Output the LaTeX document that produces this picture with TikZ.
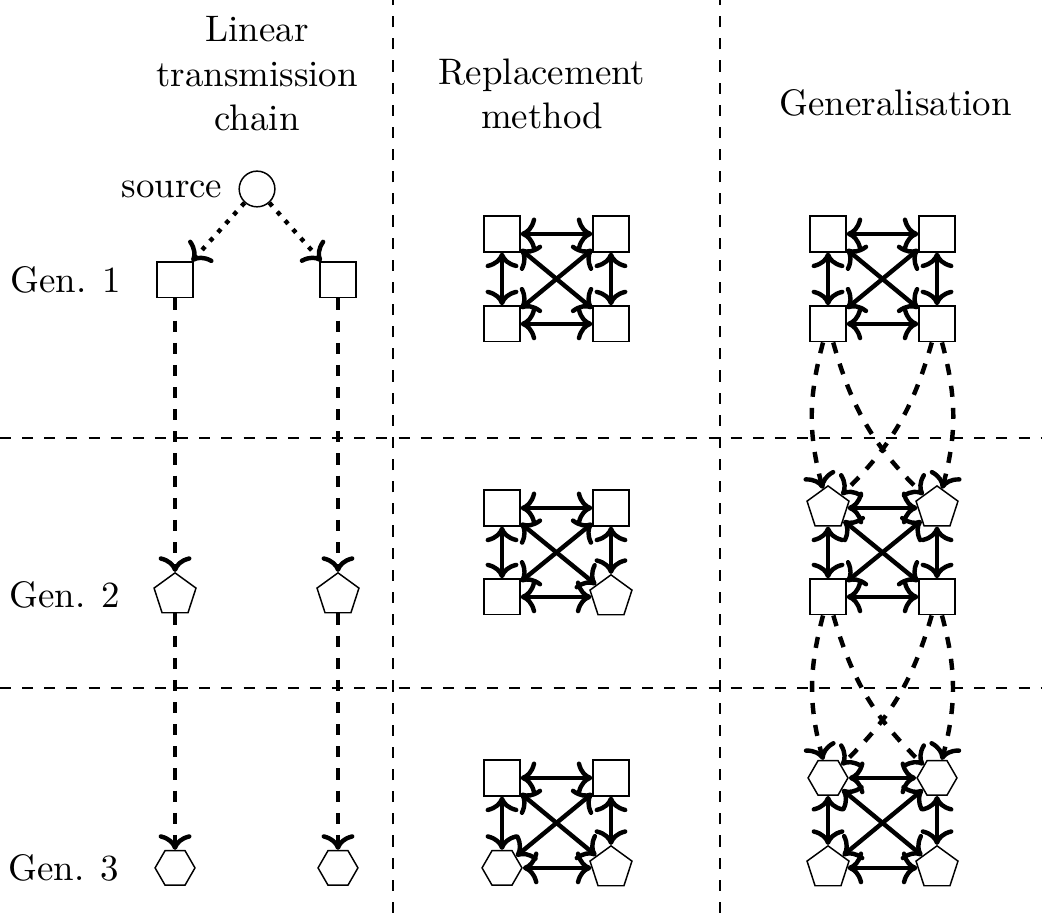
\documentclass[tikz,border=0pt]{standalone}
\usepackage{tikz}
\usetikzlibrary{shapes, arrows.meta, positioning}

\begin{document}
\begin{tikzpicture}[
  sq/.style={draw, rectangle, minimum size=0.34cm, inner sep=0pt},
  pent/.style={draw, regular polygon, regular polygon sides=5, minimum size=0.42cm, inner sep=0pt},
  hexa/.style={draw, regular polygon, regular polygon sides=6, minimum size=0.38cm, inner sep=0pt},
  mix/.style={very thick, <->},
  lineage/.style={very thick, dashed, ->},
  infect/.style={very thick, dotted, ->},
  sepline/.style={dashed}
]
  \useasboundingbox (0,0) rectangle (9.924,8.695);

  % Separators
  \draw[sepline] (3.743,0) -- (3.743,8.695);
  \draw[sepline] (6.857,0) -- (6.857,8.695);
  \draw[sepline] (0,4.524) -- (9.924,4.524);
  \draw[sepline] (0,2.143) -- (9.924,2.143);

  % Column titles
  \node[align=center] (tlin) at (2.448,7.993) {Linear\\transmission\\chain};
  \node[align=center] (trep) at (5.162,7.798) {Replacement\\method};
  \node (tgen) at (8.529,7.719) {Generalisation};

  % Linear transmission chain
  \node[circle, draw, minimum size=0.34cm, inner sep=0pt] (src) at (2.448,6.895) {};
  \node[left=0.03cm of src] {source};
  \node[sq] (l1-a) at (1.667,6.029) {};
  \node[sq] (l1-b) at (3.219,6.029) {};
  \node[pent] (l2-a) at (1.667,3.029) {};
  \node[pent] (l2-b) at (3.219,3.029) {};
  \node[hexa] (l3-a) at (1.667,0.429) {};
  \node[hexa] (l3-b) at (3.219,0.429) {};
  \node[left=0.21cm of l1-a] {Gen. 1};
  \node[left=0.21cm of l2-a] {Gen. 2};
  \node[left=0.21cm of l3-a] {Gen. 3};
  \draw[infect] (src) -- (l1-a);
  \draw[infect] (src) -- (l1-b);
  \draw[lineage] (l1-a) -- (l2-a);
  \draw[lineage] (l1-b) -- (l2-b);
  \draw[lineage] (l2-a) -- (l3-a);
  \draw[lineage] (l2-b) -- (l3-b);

  % Replacement method
  \node[sq] (r1-a) at (4.781,6.467) {};
  \node[sq] (r1-b) at (5.819,6.467) {};
  \node[sq] (r1-c) at (4.781,5.610) {};
  \node[sq] (r1-d) at (5.819,5.610) {};
  \node[sq] (r2-a) at (4.781,3.857) {};
  \node[sq] (r2-b) at (5.819,3.857) {};
  \node[sq] (r2-c) at (4.781,3.010) {};
  \node[pent] (r2-d) at (5.819,3.010) {};
  \node[sq] (r3-a) at (4.781,1.286) {};
  \node[sq] (r3-b) at (5.819,1.286) {};
  \node[hexa] (r3-c) at (4.781,0.429) {};
  \node[pent] (r3-d) at (5.819,0.429) {};

  % Generalisation
  \node[sq] (g1-a) at (7.886,6.467) {};
  \node[sq] (g1-b) at (8.924,6.467) {};
  \node[sq] (g1-c) at (7.886,5.610) {};
  \node[sq] (g1-d) at (8.924,5.610) {};
  \node[pent] (g2-a) at (7.886,3.857) {};
  \node[pent] (g2-b) at (8.924,3.857) {};
  \node[sq] (g2-c) at (7.886,3.010) {};
  \node[sq] (g2-d) at (8.924,3.010) {};
  \node[hexa] (g3-a) at (7.886,1.286) {};
  \node[hexa] (g3-b) at (8.924,1.286) {};
  \node[pent] (g3-c) at (7.886,0.429) {};
  \node[pent] (g3-d) at (8.924,0.429) {};

  % Contacts inside each generation
  \foreach \g in {r1,r2,r3,g1,g2,g3} {
    \draw[mix] (\g-a) -- (\g-b);
    \draw[mix] (\g-c) -- (\g-d);
    \draw[mix] (\g-a) -- (\g-c);
    \draw[mix] (\g-b) -- (\g-d);
    \draw[mix] (\g-a) -- (\g-d);
    \draw[mix] (\g-b) -- (\g-c);
  }

  % Transmission between generations
  \foreach \u/\v in {g1/g2, g2/g3} {
    \draw[lineage] (\u-c) to[bend right=15] (\v-a);
    \draw[lineage] (\u-c) to[bend right=15] (\v-b);
    \draw[lineage] (\u-d) to[bend left=15] (\v-b);
    \draw[lineage] (\u-d) to[bend left=15] (\v-a);
  }
\end{tikzpicture}
\end{document}
